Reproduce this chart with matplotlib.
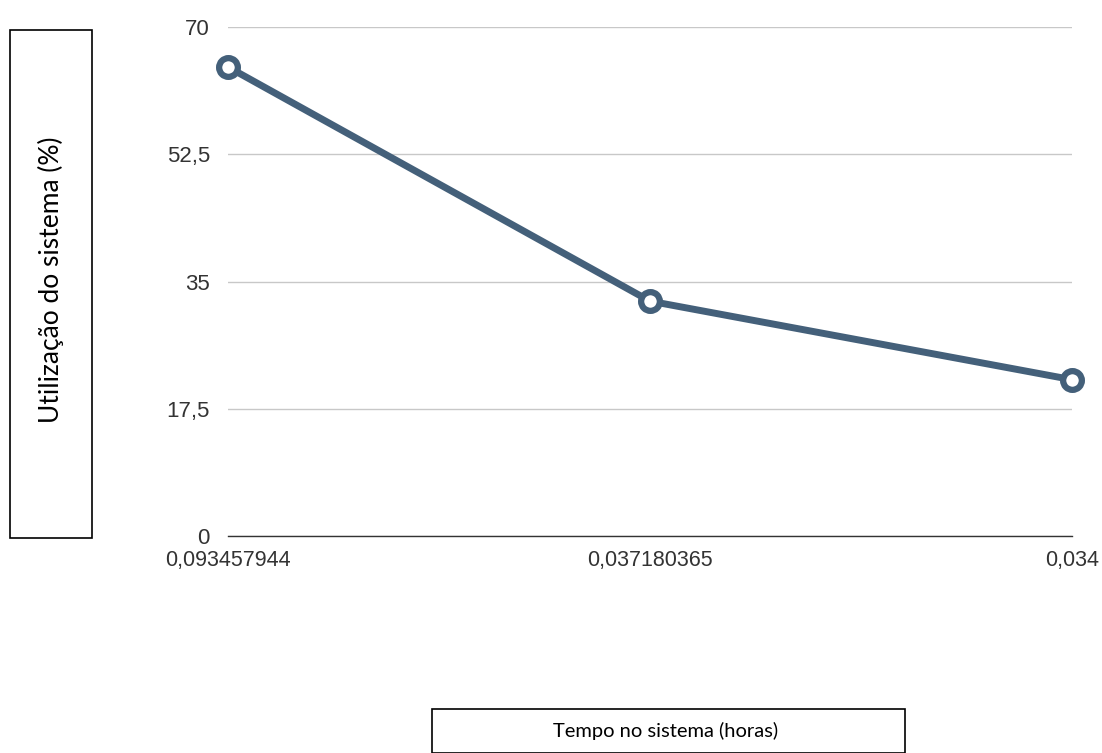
import matplotlib.pyplot as plt
from matplotlib.patches import Rectangle

# dados
tempo = ["0,093457944", "0,037180365", "0,034"]
utilizacao = [64.5, 32.3, 21.5]
yticks = [0, 17.5, 35, 52.5, 70]
ylabels = ["0", "17,5", "35", "52,5", "70"]

W, H = 1102, 753
fig = plt.figure(figsize=(W / 100, H / 100), dpi=100)
ax = fig.add_axes([228 / W, 1 - 536 / H, (1072 - 228) / W, (536 - 27) / H])

cor = "#44607a"
x = list(range(len(tempo)))
ax.plot(x, utilizacao, color=cor, lw=5, marker="o", ms=13.5,
        mfc="white", mec=cor, mew=4.5, zorder=3, clip_on=False)

ax.set_xlim(0, len(tempo) - 1)
ax.set_ylim(0, 70)
ax.set_yticks(yticks)
ax.set_yticklabels(ylabels, family="Liberation Sans", fontsize=16, color="#333333")
ax.set_xticks(x)
ax.set_xticklabels(tempo, family="Liberation Sans", fontsize=15.5, color="#333333")
ax.tick_params(length=0, axis="y", pad=13)
ax.tick_params(length=0, axis="x", pad=10)
ax.grid(axis="y", color="#c8c8c8", lw=1)
ax.set_axisbelow(True)
for s in ["top", "right", "left"]:
    ax.spines[s].set_visible(False)
ax.spines["bottom"].set_color("#333333")
ax.spines["bottom"].set_linewidth(1)

# caixas dos rótulos
fig.patches.append(Rectangle((10 / W, 1 - 538 / H), 82 / W, 508 / H,
                             transform=fig.transFigure, fill=False,
                             ec="black", lw=1.2))
fig.text(51 / W, 1 - 280 / H, "Utilização do sistema (%)", rotation=90,
         ha="center", va="center", family="Lato", fontsize=19)

fig.patches.append(Rectangle((432 / W, 0), 473 / W, 44 / H,
                             transform=fig.transFigure, fill=False,
                             ec="black", lw=1.2))
fig.text(666 / W, 1 - 731 / H, "Tempo no sistema (horas)",
         ha="center", va="center", family="Lato", fontsize=14.5)

fig.savefig("out.png", dpi=100)
